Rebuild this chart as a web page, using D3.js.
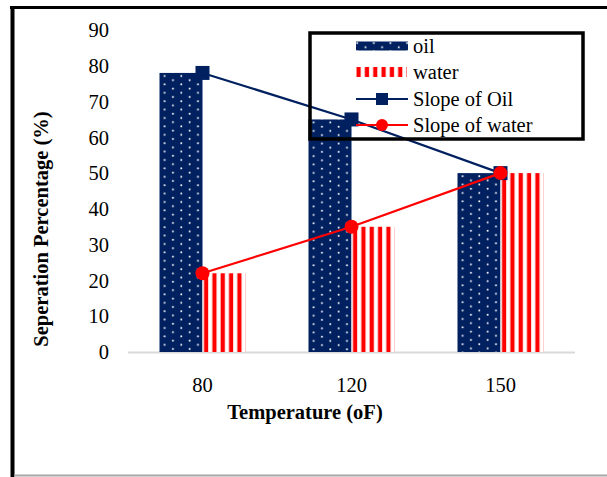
<!DOCTYPE html>
<html><head><meta charset="utf-8">
<script src="https://cdn.jsdelivr.net/npm/d3@7"></script>
<style>html,body{margin:0;padding:0;background:#fff;}svg{display:block;}</style>
</head><body>
<svg id="chart" width="607" height="477"></svg>
<script>
const categories = ["80", "120", "150"];
const seriesNames = ["oil", "water"];
const oilValues = [78, 65, 50];
const waterValues = [22, 35, 50];
const slopeOil = [78, 65, 50];
const slopeWater = [22, 35, 50];
const yTicks = [0, 10, 20, 30, 40, 50, 60, 70, 80, 90];
const legendLabels = ["oil", "water", "Slope of Oil", "Slope of water"];

const NAVY = "#002060", RED = "#ff0000";
const FONT = "'Liberation Serif', 'Times New Roman', serif";

const svg = d3.select("#chart");
const defs = svg.append("defs");

// outer frame
svg.append("line").attr("x1", 10).attr("x2", 607).attr("y1", 7.5).attr("y2", 7.5).attr("stroke", "#000").attr("stroke-width", 3);
svg.append("line").attr("x1", 12.5).attr("x2", 12.5).attr("y1", 6).attr("y2", 477).attr("stroke", "#000").attr("stroke-width", 4);
svg.append("line").attr("x1", 14).attr("x2", 607).attr("y1", 475.5).attr("y2", 475.5).attr("stroke", "#a6a6a6").attr("stroke-width", 2);

const x = d3.scaleBand().domain(categories).range([128, 575]).paddingInner(0.4228).paddingOuter(0.2114);
const xs = d3.scaleBand().domain(seriesNames).range([0, x.bandwidth()]);
const y = d3.scaleLinear().domain([0, 90]).range([352, 30]);

function dotPattern(id, ox, oy) {
  const p = defs.append("pattern").attr("id", id).attr("patternUnits", "userSpaceOnUse")
    .attr("x", ox).attr("y", oy).attr("width", 16.66).attr("height", 8.4);
  p.append("rect").attr("width", 16.66).attr("height", 8.4).attr("fill", NAVY);
  p.append("rect").attr("x", 4.3).attr("y", 2.2).attr("width", 1.7).attr("height", 1.7).attr("fill", "#fff");
  p.append("rect").attr("x", 12.6).attr("y", 6.4).attr("width", 1.7).attr("height", 1.7).attr("fill", "#fff");
}
function stripePattern(id, ox) {
  const p = defs.append("pattern").attr("id", id).attr("patternUnits", "userSpaceOnUse")
    .attr("x", ox).attr("y", 0).attr("width", 8.33).attr("height", 10);
  p.append("rect").attr("width", 8.33).attr("height", 10).attr("fill", "#fff");
  p.append("rect").attr("x", 1.5).attr("width", 4.2).attr("height", 10).attr("fill", RED);
}

// baseline
svg.append("line").attr("x1", 128).attr("x2", 575).attr("y1", y(0) + 0.5).attr("y2", y(0) + 0.5)
  .attr("stroke", "#d9d9d9").attr("stroke-width", 2);

// bars
const barData = [];
categories.forEach((c, i) => {
  barData.push({c, s: "oil", v: oilValues[i], i});
  barData.push({c, s: "water", v: waterValues[i], i});
});
barData.forEach(d => {
  const bx = x(d.c) + xs(d.s);
  const id = "pat-" + d.s + "-" + d.i;
  if (d.s === "oil") dotPattern(id, bx, y(d.v)); else stripePattern(id, bx);
  d.id = id; d.bx = bx;
});
svg.append("g").selectAll("rect").data(barData).join("rect")
  .attr("x", d => d.bx).attr("y", d => y(d.v))
  .attr("width", xs.bandwidth()).attr("height", d => y(0) - y(d.v))
  .attr("fill", d => "url(#" + d.id + ")");

// y tick labels
svg.append("g").selectAll("text").data(yTicks).join("text")
  .attr("x", 109).attr("y", d => y(d)).attr("dy", "0.35em")
  .attr("text-anchor", "end").attr("font-family", FONT).attr("font-size", 20.5).attr("fill", "#000")
  .text(d => d);

// x tick labels
svg.append("g").selectAll("text").data(categories).join("text")
  .attr("x", d => x(d) + x.bandwidth() / 2).attr("y", 392)
  .attr("text-anchor", "middle").attr("font-family", FONT).attr("font-size", 20.5).attr("fill", "#000")
  .text(d => d);

// axis titles
svg.append("text").attr("x", 305).attr("y", 419).attr("text-anchor", "middle")
  .attr("font-family", FONT).attr("font-weight", "bold").attr("font-size", 20.5).text("Temperature (oF)");
svg.append("text").attr("transform", "translate(48,229) rotate(-90)").attr("text-anchor", "middle")
  .attr("font-family", FONT).attr("font-weight", "bold").attr("font-size", 20.5).text("Seperation Percentage (%)");

// lines
const cx = c => x(c) + x.bandwidth() / 2;
const line = d3.line().x(d => cx(d.c)).y(d => y(d.v));
const oilPts = categories.map((c, i) => ({c, v: slopeOil[i]}));
const waterPts = categories.map((c, i) => ({c, v: slopeWater[i]}));
svg.append("path").datum(oilPts).attr("d", line).attr("fill", "none").attr("stroke", NAVY).attr("stroke-width", 2.2);
svg.append("g").selectAll("rect").data(oilPts).join("rect")
  .attr("x", d => cx(d.c) - 7).attr("y", d => y(d.v) - 7).attr("width", 14).attr("height", 14).attr("fill", NAVY);
svg.append("path").datum(waterPts).attr("d", line).attr("fill", "none").attr("stroke", RED).attr("stroke-width", 2.2);
svg.append("g").selectAll("circle").data(waterPts).join("circle")
  .attr("cx", d => cx(d.c)).attr("cy", d => y(d.v)).attr("r", 7).attr("fill", RED);

// legend
const lg = svg.append("g");
lg.append("rect").attr("x", 310).attr("y", 33).attr("width", 273).attr("height", 106)
  .attr("fill", "none").attr("stroke", "#000").attr("stroke-width", 3.5);
const ly = [46, 72, 99, 125];
dotPattern("leg-oil", 352, 40);
stripePattern("leg-water", 355);
lg.append("rect").attr("x", 356).attr("y", ly[0] - 4.5).attr("width", 52).attr("height", 9).attr("fill", "url(#leg-oil)");
lg.append("rect").attr("x", 356).attr("y", ly[1] - 5).attr("width", 51).attr("height", 10).attr("fill", "url(#leg-water)");
lg.append("line").attr("x1", 356).attr("x2", 408).attr("y1", ly[2]).attr("y2", ly[2]).attr("stroke", NAVY).attr("stroke-width", 2.2);
lg.append("rect").attr("x", 382 - 6).attr("y", ly[2] - 6).attr("width", 12).attr("height", 12).attr("fill", NAVY);
lg.append("line").attr("x1", 356).attr("x2", 408).attr("y1", ly[3]).attr("y2", ly[3]).attr("stroke", RED).attr("stroke-width", 2.2);
lg.append("circle").attr("cx", 382).attr("cy", ly[3]).attr("r", 6).attr("fill", RED);
lg.selectAll("text.lbl").data(legendLabels).join("text").attr("class", "lbl")
  .attr("x", 413).attr("y", (d, i) => ly[i]).attr("dy", "0.35em")
  .attr("font-family", FONT).attr("font-size", 20.5).attr("fill", "#000").text(d => d);
</script>
</body></html>
